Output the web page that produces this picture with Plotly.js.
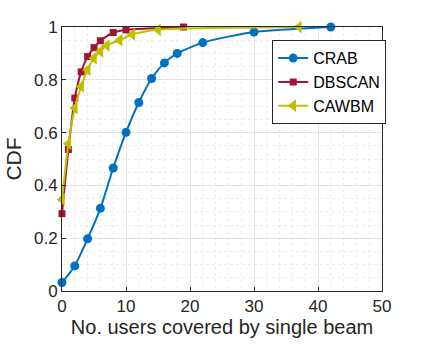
<!DOCTYPE html>
<html>
<head>
<meta charset="utf-8">
<script src="https://cdn.plot.ly/plotly-3.0.1.min.js"></script>
<style>
  html, body { margin: 0; padding: 0; background: #fff; }
  #cdf-plot { width: 423px; height: 349px; }
</style>
</head>
<body>
<div id="cdf-plot"></div>
<script>
// CDF of users per beam
const crabX = [0, 2, 4, 6, 8, 10, 12, 14, 16, 18, 22, 30, 42];
const crabY = [0.032, 0.095, 0.198, 0.313, 0.466, 0.601, 0.714, 0.805, 0.864, 0.9, 0.941, 0.981, 1.0];

const dbscanX = [0, 1, 2, 3, 4, 5, 6, 8, 10, 19];
const dbscanY = [0.293, 0.536, 0.731, 0.83, 0.888, 0.922, 0.948, 0.979, 0.989, 1.0];

const cawbmX = [0, 1, 2, 3, 4, 5, 6, 7, 9, 11, 15, 37];
const cawbmY = [0.347, 0.558, 0.693, 0.775, 0.838, 0.882, 0.908, 0.93, 0.95, 0.972, 0.99, 1.0];

const font = 'Liberation Sans, Arial, Helvetica, sans-serif';

const traces = [
    {
        x: crabX, y: crabY, name: 'CRAB', type: 'scatter', mode: 'lines+markers',
        line: { color: '#0072BD', width: 2, shape: 'spline', smoothing: 0.6 },
        marker: { symbol: 'circle', size: 9, color: '#0072BD' },
        cliponaxis: false
    },
    {
        x: dbscanX, y: dbscanY, name: 'DBSCAN', type: 'scatter', mode: 'lines+markers',
        line: { color: '#A2142F', width: 2, shape: 'spline', smoothing: 0.6 },
        marker: { symbol: 'square', size: 7, color: '#A2142F' },
        cliponaxis: false
    },
    {
        x: cawbmX, y: cawbmY, name: 'CAWBM', type: 'scatter', mode: 'lines+markers',
        line: { color: '#BFBF00', width: 2, shape: 'spline', smoothing: 0.6 },
        marker: { symbol: 'triangle-left', size: 11, color: '#BFBF00' },
        cliponaxis: false
    }
];

const axisCommon = {
    showline: true, mirror: true, linecolor: '#262626', linewidth: 1,
    ticks: 'inside', ticklen: 4, tickcolor: '#262626',
    showgrid: true, gridcolor: '#e3e3e3', gridwidth: 1,
    zeroline: false,
    tickfont: { family: font, size: 17, color: '#262626' }
};

const layout = {
    width: 423, height: 349,
    margin: { l: 62, r: 41, t: 27, b: 58 },
    paper_bgcolor: '#fff', plot_bgcolor: '#fff',
    font: { family: font, color: '#262626' },
    showlegend: true,
    legend: {
        x: 0.657, y: 0.95, xanchor: 'left', yanchor: 'top',
        bgcolor: '#fff', bordercolor: '#262626', borderwidth: 1,
        font: { family: font, size: 16, color: '#000' },
        itemwidth: 30,
        tracegroupgap: 0
    },
    xaxis: Object.assign({}, axisCommon, {
        range: [0, 50], dtick: 10,
        minor: { dtick: 2, showgrid: true, gridcolor: '#ececec', griddash: 'dot', ticks: '' },
        title: { text: 'No. users covered by single beam', font: { family: font, size: 20, color: '#262626' }, standoff: 4 }
    }),
    yaxis: Object.assign({}, axisCommon, {
        range: [0, 1], dtick: 0.2,
        minor: { dtick: 0.05, showgrid: true, gridcolor: '#ececec', griddash: 'dot', ticks: '' },
        title: { text: 'CDF', font: { family: font, size: 21, color: '#262626' }, standoff: 6 }
    })
};

Plotly.newPlot('cdf-plot', traces, layout, { displayModeBar: false, staticPlot: true });
</script>
</body>
</html>
